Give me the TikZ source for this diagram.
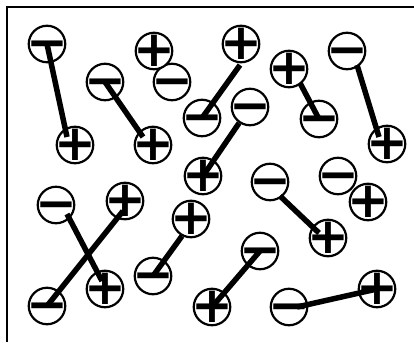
\documentclass[tikz,border=0pt]{standalone}
\usepackage{fontspec}
\newfontfamily\ionfont{DejaVu Sans Bold}
\newcommand{\ionsign}[1]{\makebox[26pt][c]{\vphantom{+}#1}}
\tikzset{
  ion/.style={circle, draw, fill=white, line width=2.2pt, minimum size=36.5pt, inner sep=0pt,
    label={[font=\ionfont\fontsize{50}{50}\selectfont, inner sep=0pt]center:\ionsign{#1}}},
  posion/.style={ion={+}},
  negion/.style={ion={−}},
  bond/.style={line width=5.5pt},
  frame/.style={line width=2pt}
}
\begin{document}
\begin{tikzpicture}[x=1pt,y=-1pt]
\useasboundingbox (0,0) rectangle (414,342);
\coordinate (f1) at (7,342);
\coordinate (f2) at (7,7);
\coordinate (f3) at (414,7);
\draw[frame] (f1) -- (f2) -- (f3);
% ions
\node[negion] (A) at (47,44) {};
\node[posion] (B) at (75,145) {};
\node[negion] (D) at (172,82) {};
\node[posion] (C) at (154,51) {};
\node[negion] (E) at (105,82) {};
\node[posion] (F) at (153,145) {};
\node[posion] (G) at (241,44) {};
\node[negion] (H) at (202,118) {};
\node[negion] (I) at (250,107) {};
\node[posion] (J) at (203,176) {};
\node[posion] (K) at (289,69) {};
\node[negion] (L) at (319,119) {};
\node[negion] (M) at (347,51) {};
\node[posion] (N) at (387,144) {};
\node[negion] (O) at (56,205) {};
\node[posion] (P) at (125,201) {};
\node[posion] (Q) at (105,289) {};
\node[negion] (R) at (47,306) {};
\node[posion] (S) at (191,219) {};
\node[negion] (T) at (153,276) {};
\node[posion] (V) at (212,307) {};
\node[negion] (W) at (260,251) {};
\node[negion] (X) at (270,182) {};
\node[posion] (Y) at (328,238) {};
\node[posion] (AA) at (368,202) {};
\node[negion] (Z) at (338,176) {};
\node[negion] (BB) at (289,307) {};
\node[posion] (CC) at (377,289) {};
% bonds
\draw[bond] (A.center) -- ([shift={(-8pt,8pt)}]B.center);
\draw[bond] (E.center) -- ([shift={(-10pt,8pt)}]F.center);
\draw[bond] ([shift={(-1pt,-21pt)}]G.center) -- (H.center);
\draw[bond] (I) -- (J.center);
\draw[bond] ([shift={(11pt,-14pt)}]K.center) -- (L.center);
\draw[bond] ([shift={(10pt,-14pt)}]M.center) -- ([shift={(-8pt,7pt)}]N.center);
\draw[bond] ([shift={(11pt,-9pt)}]O.center) -- ([shift={(-3pt,8pt)}]Q.center);
\draw[bond] (R.center) -- ([shift={(-2pt,-10pt)}]P.center);
\draw[bond] (T.center) -- ([shift={(-9pt,-17pt)}]S.center);
\draw[bond] (V.center) -- (W.center);
\draw[bond] ([shift={(10pt,-14pt)}]X.center) -- ([shift={(-9pt,5pt)}]Y.center);
\draw[bond] ([shift={(8pt,0pt)}]BB.center) -- (CC.center);
\end{tikzpicture}
\end{document}
